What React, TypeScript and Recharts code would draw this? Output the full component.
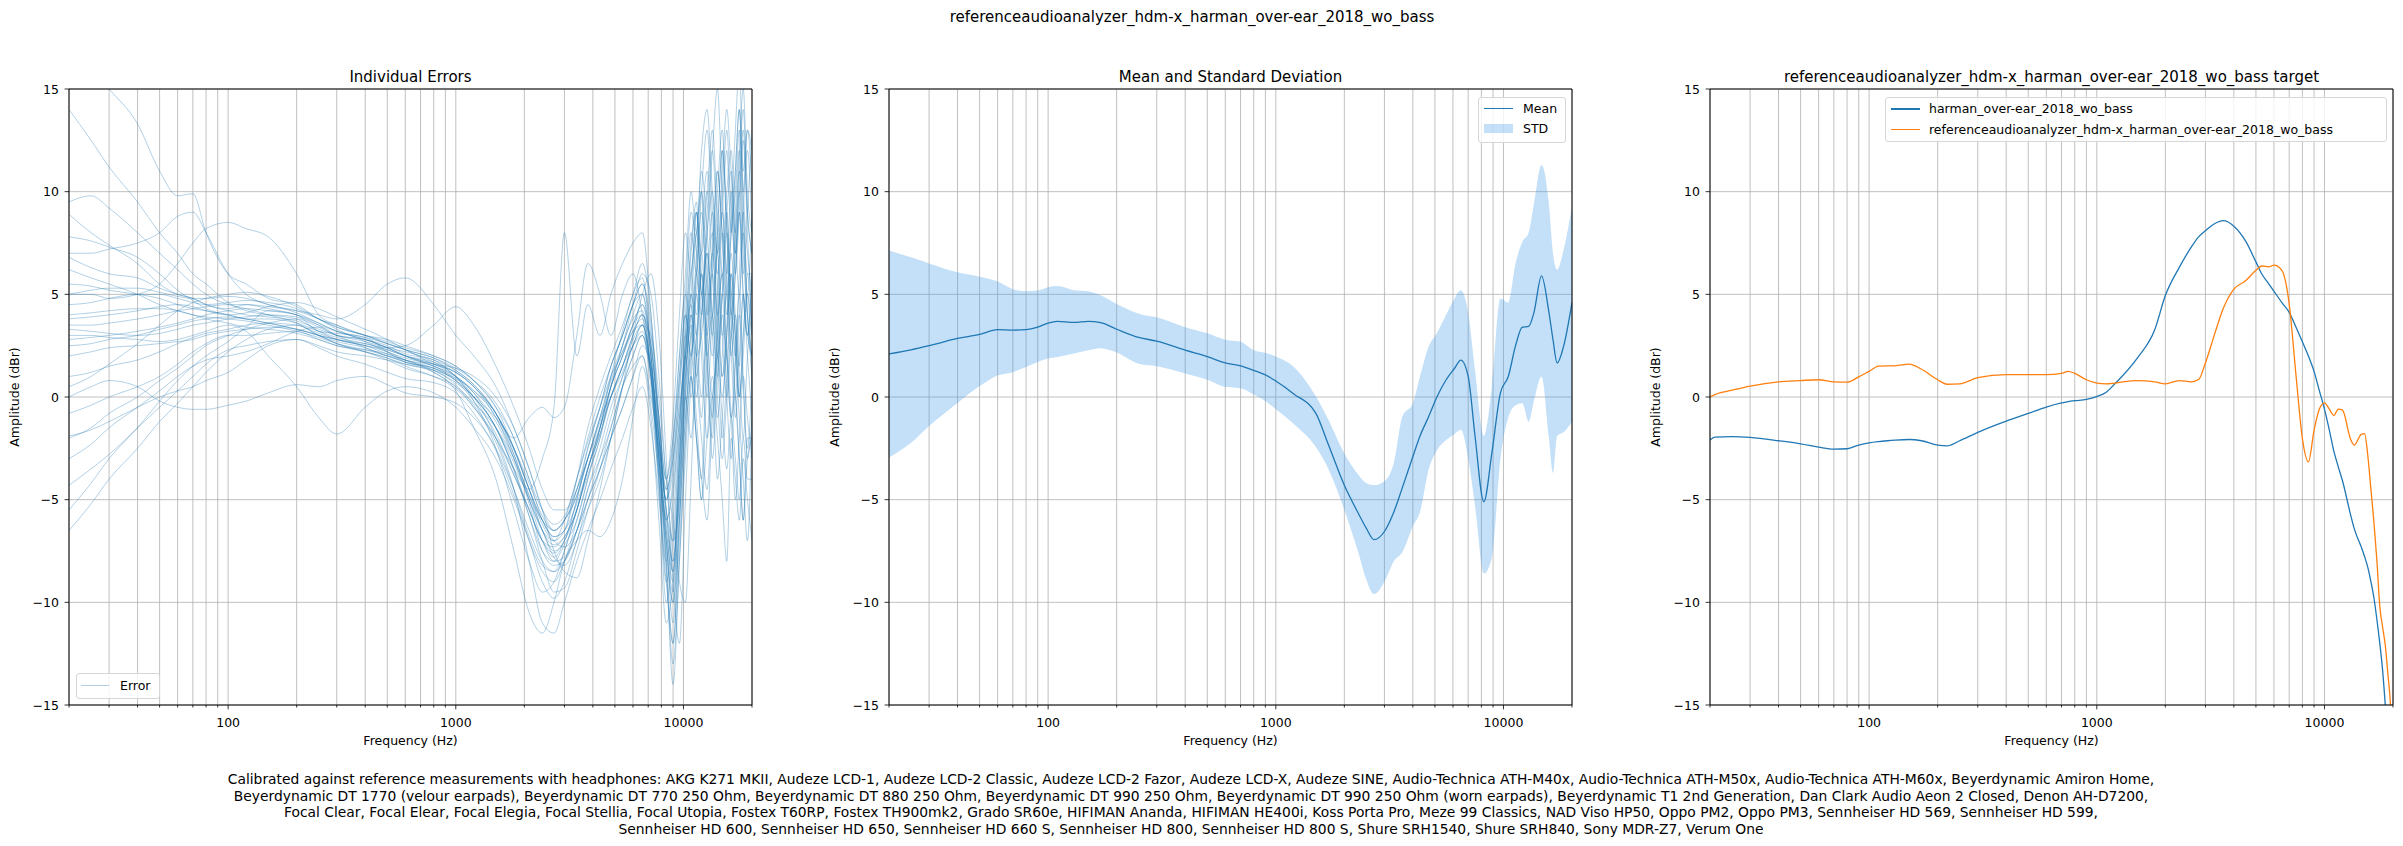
import React from "react";
import {
  LineChart,
  ComposedChart,
  Line,
  Area,
  XAxis,
  YAxis,
  CartesianGrid,
  ReferenceLine,
} from "recharts";

const FONT = "'DejaVu Sans', sans-serif";
const BLUE = "#1f77b4";
const ORANGE = "#ff7f0e";

// ---- axes ----
const X_TICKS = [
  20, 30, 40, 50, 60, 70, 80, 90, 100, 200, 300, 400, 500, 600, 700, 800, 900,
  1000, 2000, 3000, 4000, 5000, 6000, 7000, 8000, 9000, 10000, 20000,
];
const X_MAJOR = [100, 1000, 10000];
const Y_TICKS = [-15, -10, -5, 0, 5, 10, 15];

// ---- individual errors ----
const ERR_FREQ = [
  20, 25, 30, 40, 50, 60, 70, 80,
  100, 120, 150, 200, 250, 300, 400, 500, 600, 800,
  1000, 1200, 1500, 1800, 2100, 2400, 2700, 3000, 3400, 3800,
  4300, 4800, 5400, 6000, 6600, 7200, 7800, 8400, 9000, 9600,
  10200, 10800, 11400, 12000, 12700, 13400, 14100, 14800, 15500, 16200,
  16900, 17600, 18300, 19100, 20000,
];

const ERR_01 = [
  -6.5, -5.2, -4.0, -2.5, -1.2, -0.3, 0.5, 1.2,
  2.2, 2.8, 3.3, 3.5, 3.0, 2.6, 2.2, 1.9, 1.5, 1.0,
  0.4, -0.5, -2.2, -4.5, -6.8, -8.2, -8.5, -7.5, -5.5, -3.8,
  -2.0, 0.5, 2.5, 3.8, 4.2, 1.0, -4.5, -8.0, -5.0, -1.0,
  2.5, 4.5, 2.0, 3.0, 6.0, 9.0, 5.5, 1.0, 3.5, 7.0, 4.0, 1.5, 5.0, 3.0, 2.0,
];
const ERR_02 = [
  -5.5, -4.2, -3.0, -1.5, -0.2, 0.8, 1.5, 2.0,
  2.7, 3.4, 4.2, 4.0, 3.2, 3.1, 2.9, 2.2, 1.7, 1.4,
  0.8, 0.0, -1.5, -3.6, -5.8, -7.5, -8.0, -7.2, -6.0, -4.0,
  -1.5, 1.0, 3.2, 5.0, 5.8, 2.0, -4.0, -10.0, -7.0, -2.0,
  3.0, 7.0, 9.5, 5.0, 9.0, 12.0, 7.5, 3.0, 6.0, 10.0, 6.0, 9.0, 12.5, 8.0, 3.5,
];
const ERR_03 = [
  -4.3, -3.5, -2.8, -1.5, -0.5, 0.3, 1.0, 1.6,
  2.3, 2.5, 2.7, 2.8, 2.4, 2.0, 1.6, 1.2, 0.9, 0.7,
  0.2, -0.8, -2.6, -4.8, -7.0, -9.0, -9.8, -9.0, -7.0, -5.5,
  -4.0, -2.0, 0.5, 2.0, 3.0, 0.5, -3.5, -7.0, -9.5, -4.0,
  1.0, 3.5, 1.0, -2.0, -4.5, 0.0, 2.0, 5.0, 0.0, -3.0, 1.5, 4.0, 0.5, -2.5, 1.0,
];
const ERR_04 = [
  -2.0, -1.5, -0.8, 0.0, 0.8, 1.4, 2.0, 2.5,
  3.0, 3.3, 3.6, 3.8, 3.4, 3.0, 2.8, 2.5, 2.1, 1.8,
  1.0, 0.2, -1.2, -3.0, -5.0, -6.5, -7.5, -7.0, -5.0, -2.5,
  -0.5, 1.5, 3.0, 4.5, 5.5, 3.0, -2.0, -6.5, -8.5, -3.0,
  2.0, 6.0, 8.0, 10.0, 4.0, 7.0, 11.0, 8.0, 4.0, 8.0, 10.0, 13.0, 9.0, 6.0, 6.0,
];
const ERR_05 = [
  -1.9, -1.6, -1.2, -0.5, 0.0, 0.3, 0.5, 0.8,
  1.2, 1.8, 2.5, 2.8, 2.5, 2.2, 2.0, 1.8, 1.6, 1.3,
  0.9, 0.3, -0.8, -2.5, -4.5, -6.0, -6.8, -6.5, -4.5, -3.0,
  -1.0, 0.0, 1.5, 3.0, 4.0, 2.5, -1.0, -4.0, -2.0, 1.0,
  4.0, 2.0, 5.0, 7.0, 2.0, -1.0, 3.0, 6.0, 2.0, -1.0, 0.0, -3.0, -6.0, -2.0, -2.0,
];
const ERR_06 = [
  -0.8, -0.4, 0.0, 0.5, 1.0, 1.6, 2.2, 2.6,
  3.0, 3.0, 3.1, 3.2, 2.8, 2.5, 2.3, 2.1, 1.8, 1.5,
  0.8, -0.2, -1.8, -3.8, -5.5, -7.0, -7.3, -6.8, -5.5, -3.5,
  -1.8, 0.0, 1.2, 2.5, 3.2, 1.2, -3.0, -7.0, -11.0, -6.0,
  -1.0, 2.0, -1.0, -4.0, 3.0, 6.0, 2.0, -2.0, 1.0, 4.0, 2.0, -1.0, -4.0, -7.0, -1.0,
];
const ERR_07 = [
  0.0, 0.5, 0.8, 0.5, -0.2, -0.5, -0.6, -0.6,
  -0.4, -0.2, 0.2, 0.6, 0.5, 0.8, 1.0, 0.6, 0.2, 0.0,
  -0.3, -1.0, -2.5, -4.5, -6.5, -8.0, -8.5, -8.0, -6.5, -4.5,
  -3.0, -1.5, 0.5, 1.5, 2.0, 0.0, -2.5, -5.0, -3.0, 0.5,
  3.0, 1.0, -2.0, -4.0, -6.0, -1.0, 2.0, -1.0, -3.5, -1.0, -3.0, -5.0, -2.0, -4.0, -4.0,
];
const ERR_08 = [
  14.0, 12.5, 11.2, 9.5, 8.0, 7.0, 6.0, 5.5,
  4.6, 4.2, 4.0, 3.8, 3.2, 2.8, 2.5, 2.2, 1.8, 1.3,
  0.6, -0.4, -2.0, -3.8, -5.5, -7.0, -7.8, -7.0, -5.0, -3.0,
  -1.0, 1.0, 2.5, 4.0, 5.0, 2.0, -2.0, -5.5, -7.0, -2.0,
  4.0, 8.0, 6.0, 10.0, 13.0, 9.0, 6.0, 9.0, 12.0, 8.0, 11.0, 14.0, 10.0, 7.0, 5.0,
];
const ERR_09 = [
  17.0, 16.0, 15.0, 13.3, 11.0, 9.8, 9.9, 8.0,
  6.0, 5.5, 4.8, 4.5, 3.8, 3.5, 3.0, 2.6, 2.3, 1.6,
  1.2, 0.5, -0.8, -2.5, -4.5, -6.2, -7.0, -6.5, -4.0, -1.5,
  0.5, 2.0, 3.5, 5.0, 6.5, 4.0, -1.0, -6.0, -8.0, -3.0,
  3.0, 7.5, 9.0, 5.0, 8.0, 12.0, 15.0, 10.0, 6.0, 9.0, 13.0, 16.0, 11.0, 13.0, 10.0,
];
const ERR_10 = [
  9.5, 9.8, 9.2, 8.0, 7.0, 6.2, 5.5, 5.0,
  4.5, 4.3, 4.0, 3.6, 3.0, 2.7, 2.4, 2.0, 1.7, 1.4,
  0.9, 0.0, -1.5, -3.5, -5.5, -7.0, -7.6, -7.0, -5.5, -3.5,
  -1.5, 0.5, 2.0, 3.5, 4.0, 1.5, -3.0, -8.0, -12.0, -6.0,
  0.0, 5.0, 3.0, 7.0, 10.0, 6.0, 2.0, 5.0, 8.0, 5.0, 2.0, 6.0, 9.0, 4.0, 2.0,
];
const ERR_11 = [
  8.9, 8.0, 7.4, 6.5, 5.5, 5.0, 4.8, 4.5,
  4.3, 4.5, 4.3, 4.0, 3.5, 3.0, 2.8, 2.4, 2.0, 1.5,
  1.0, 0.2, -1.5, -3.2, -5.0, -6.5, -7.0, -6.0, -4.0, -2.0,
  0.0, 1.5, 3.0, 4.5, 5.5, 3.5, -1.5, -5.0, -3.5, 1.0,
  5.0, 9.0, 7.0, 4.0, 8.0, 10.0, 7.0, 10.0, 13.0, 9.0, 7.0, 11.0, 14.0, 9.0, 7.0,
];
const ERR_12 = [
  7.8, 7.6, 7.3, 6.8, 6.0, 5.2, 4.7, 4.3,
  4.0, 3.8, 3.8, 3.6, 3.2, 2.9, 2.6, 2.3, 2.0, 1.6,
  1.2, 0.5, -1.0, -2.8, -4.8, -6.0, -6.5, -6.0, -4.8, -3.0,
  -1.2, 0.5, 2.0, 3.2, 3.8, 1.0, -4.0, -9.0, -6.0, -1.5,
  2.0, 0.0, 3.0, 6.0, 3.0, 0.0, 4.0, 8.0, 5.0, 2.0, 4.0, 1.0, -2.0, 2.0, 4.0,
];
const ERR_13 = [
  7.0, 7.0, 7.2, 7.5, 8.0, 8.8, 9.0, 8.0,
  6.0, 5.0, 4.5, 4.2, 3.8, 3.4, 3.0, 2.7, 2.4, 2.0,
  1.5, 0.8, -0.5, -2.0, -4.0, -5.5, -6.2, -5.8, -4.0, -2.2,
  -0.5, 1.0, 2.2, 3.5, 4.5, 2.5, -1.0, -4.5, -2.5, 2.0,
  6.0, 10.0, 8.0, 12.0, 14.0, 10.0, 7.0, 11.0, 14.0, 11.0, 8.0, 12.0, 15.0, 10.0, 8.0,
];
const ERR_14 = [
  6.8, 6.3, 6.0, 5.8, 5.3, 5.0, 4.8, 4.5,
  4.2, 4.0, 3.9, 3.7, 3.3, 3.0, 2.7, 2.4, 2.2, 1.8,
  1.3, 0.6, -0.8, -2.6, -4.5, -6.0, -6.8, -6.5, -5.2, -3.5,
  -1.8, 0.0, 1.5, 2.8, 3.5, 1.0, -3.5, -7.5, -10.0, -5.0,
  0.5, 4.0, 2.0, -1.0, 5.0, 8.0, 4.0, 1.0, 3.0, 6.0, 3.0, 0.0, 3.0, 5.0, 0.5,
];
const ERR_15 = [
  5.0, 5.0, 4.8, 5.0, 5.5, 6.5, 7.5, 8.2,
  8.5, 8.2, 7.8, 6.0, 4.0, 3.5, 3.0, 2.8, 2.5, 2.0,
  1.5, 0.8, -0.5, -2.5, -4.5, -6.5, -7.2, -6.8, -5.5, -3.5,
  -1.5, 0.5, 2.0, 3.5, 4.5, 2.0, -2.5, -6.0, -4.0, 0.0,
  4.0, 2.0, 6.0, 9.0, 5.0, 2.0, 5.0, 9.0, 6.0, 3.0, 6.0, 9.0, 5.0, 3.0, 6.0,
];
const ERR_16 = [
  3.5, 3.5, 3.6, 3.8, 4.0, 4.2, 4.3, 4.4,
  4.5, 4.5, 4.4, 4.2, 4.0, 3.8, 4.5, 5.5, 5.8, 4.5,
  3.0, 2.0, 0.5, -1.5, -3.5, -5.5, -6.5, -6.0, -4.5, -2.5,
  -0.5, 1.5, 3.0, 4.5, 5.0, 2.5, -1.5, -5.5, -8.0, -3.0,
  2.0, 5.0, 3.0, 0.0, 4.0, 7.0, 3.0, 0.0, 3.0, 6.0, 3.0, 0.0, 3.0, 6.0, 3.0,
];
const ERR_17 = [
  3.0, 3.0, 2.9, 2.8, 2.7, 2.8, 3.0, 3.2,
  3.5, 3.2, 2.0, 0.5, -1.0, -1.8, -0.5, 0.3, 0.5, 0.2,
  -0.5, -1.5, -3.0, -5.0, -7.0, -8.5, -9.0, -8.0, -6.5, -5.0,
  -3.5, -2.0, -0.5, 1.0, 2.0, -0.5, -4.0, -8.5, -13.0, -8.0,
  -3.0, 1.0, -2.0, -5.0, -2.0, 1.0, -2.0, -5.0, -8.0, -2.0, -4.0, -6.0, -3.0, -5.0, -7.0,
];
const ERR_18 = [
  3.3, 3.2, 3.1, 3.0, 3.1, 3.3, 3.5, 3.6,
  3.8, 3.9, 4.0, 3.9, 3.5, 3.2, 2.9, 2.6, 2.3, 1.9,
  1.4, 0.8, -0.3, -2.0, -4.0, -6.0, -7.0, -7.3, -6.5, -5.0,
  -3.5, -2.0, -0.5, 1.0, 2.5, 1.5, -2.0, -5.0, -2.0, 2.0,
  5.0, 3.0, 7.0, 11.0, 8.0, 4.0, 8.0, 12.0, 9.0, 5.0, 9.0, 12.0, 8.0, 5.0, 9.0,
];
const ERR_19 = [
  2.0, 2.2, 2.4, 2.5, 2.6, 2.7, 2.8, 3.0,
  3.2, 3.3, 3.4, 3.3, 3.0, 2.8, 2.5, 2.3, 2.0, 1.7,
  1.2, 0.5, -0.8, -2.5, -4.2, -5.8, -6.5, -6.0, -4.8, -3.0,
  -1.0, 0.8, 2.2, 3.2, 3.5, 1.5, -2.0, -4.5, -3.0, -0.5,
  2.0, 4.0, 1.0, 4.0, 7.0, 4.0, 1.0, 4.0, 2.0, 5.0, 3.0, 0.0, 2.0, 5.0, 3.0,
];
const ERR_20 = [
  4.5, 4.6, 4.8, 5.0, 5.0, 4.8, 4.6, 4.5,
  4.6, 4.7, 4.6, 4.3, 3.8, 3.4, 3.0, 2.6, 2.3, 1.9,
  1.3, 0.6, -0.8, -2.8, -5.0, -7.0, -8.0, -7.8, -6.0, -4.0,
  -2.0, 0.0, 1.5, 3.0, 4.0, 2.0, -3.0, -8.0, -14.0, -8.0,
  -2.0, 3.0, 0.0, 4.0, 7.0, 3.0, -1.0, 2.0, 5.0, 2.0, -1.0, 2.0, 5.0, 2.0, -1.0,
];
const ERR_21 = [
  1.0, 1.2, 1.5, 1.8, 2.2, 2.6, 2.9, 3.1,
  3.3, 3.5, 3.6, 3.5, 3.1, 2.8, 2.5, 2.1, 1.8, 1.4,
  0.8, 0.0, -1.5, -3.5, -5.8, -8.0, -9.5, -9.3, -7.5, -5.5,
  -3.5, -1.5, 0.5, 2.0, 3.0, 1.0, -3.0, -6.5, -9.0, -4.5,
  0.0, 3.0, 6.0, 3.0, 0.0, 4.0, 7.0, 3.0, 0.0, 3.0, 6.0, 9.0, 5.0, 3.0, 6.0,
];
const ERR_22 = [
  5.5, 5.4, 5.2, 5.0, 4.8, 4.5, 4.3, 4.2,
  4.0, 3.8, 3.6, 3.3, 3.0, 2.8, 2.6, 2.4, 2.5, 3.5,
  4.4, 3.5, 1.5, -0.5, -2.5, -4.5, -5.5, -5.5, -4.5, -3.0,
  -1.5, 0.0, 1.5, 2.5, 3.0, 1.0, -2.5, -6.0, -4.5, -1.0,
  2.0, 6.0, 4.0, 8.0, 11.0, 8.0, 4.0, 7.0, 10.0, 12.0, 8.0, 5.0, 9.0, 12.0, 8.0,
];
const ERR_23 = [
  2.5, 2.6, 2.8, 3.0, 3.3, 3.5, 3.7, 3.8,
  3.9, 3.8, 3.6, 3.3, 3.0, 2.6, 2.2, 1.8, 1.4, 1.0,
  0.5, -0.5, -2.0, -3.5, -4.5, -3.0, -0.5, 8.0, 2.0, 4.5,
  3.0, 5.0, 6.5, 7.5, 8.0, 4.0, -1.0, -4.0, -1.0, 4.0,
  8.0, 6.0, 9.0, 7.0, 10.0, 13.0, 9.0, 6.0, 9.0, 11.0, 7.0, 10.0, 13.0, 9.0, 7.0,
];
const ERR_24 = [
  4.0, 4.1, 4.2, 4.3, 4.3, 4.2, 4.0, 3.9,
  3.8, 3.7, 3.5, 3.2, 2.9, 2.6, 2.3, 2.0, 1.7, 1.3,
  0.7, 0.0, -1.0, -2.0, -1.0, -0.5, -1.0, -0.5, 3.0, 6.5,
  5.0, 3.0, 5.0, 6.0, 4.0, 1.0, -3.0, -7.0, -10.0, -6.0,
  -1.0, 2.0, 5.0, 2.0, -2.0, 0.0, -4.0, -1.0, 2.0, -1.0, -5.0, -2.0, 1.0, -1.0, -3.0,
];
const ERR_25 = [
  2.8, 2.9, 3.0, 3.2, 3.4, 3.6, 3.8, 4.0,
  4.2, 4.3, 4.2, 4.0, 3.6, 3.2, 2.8, 2.4, 2.0, 1.6,
  1.0, 0.0, -2.0, -4.5, -8.0, -11.0, -11.5, -10.0, -8.0, -6.5,
  -5.0, -3.5, -2.0, -0.5, 0.5, -1.5, -5.0, -9.0, -12.0, -7.0,
  -2.0, 1.0, -2.0, -5.0, 1.0, 4.0, 0.0, -3.0, 0.0, 3.0, 0.0, -3.0, -6.0, -3.0, -2.0,
];
const ERR_26 = [
  5.0, 5.2, 5.3, 5.3, 5.1, 4.9, 4.8, 4.8,
  4.9, 4.8, 4.5, 4.1, 3.6, 3.2, 2.8, 2.4, 2.0, 1.5,
  1.0, 0.3, -1.0, -3.0, -5.2, -7.5, -8.2, -8.0, -6.5, -4.5,
  -2.5, -0.5, 1.0, 2.5, 3.5, 1.5, -2.0, -5.5, -8.5, -3.5,
  1.5, 5.0, 9.0, 6.0, 3.0, 7.0, 11.0, 8.0, 5.0, 8.0, 11.0, 14.0, 10.0, 13.0, 12.0,
];
const ERR_27 = [
  6.2, 5.8, 5.5, 5.0, 4.5, 4.2, 4.0, 3.8,
  3.6, 3.4, 3.3, 3.1, 2.8, 2.5, 2.2, 1.9, 1.6, 1.2,
  0.3, -1.5, -4.0, -7.5, -10.5, -11.5, -10.0, -8.0, -7.0, -6.5,
  -6.8, -6.0, -4.0, -1.0, 1.5, -1.0, -6.0, -11.0, -9.0, -4.0,
  0.0, -2.0, 2.0, 5.0, 1.0, -2.0, 3.0, 6.0, 2.0, -1.0, 2.0, 5.0, 1.0, -3.0, -1.0,
];
const ERR_28 = [
  0.5, 1.0, 1.6, 2.6, 3.5, 4.2, 4.6, 4.8,
  5.0, 5.1, 4.9, 4.4, 3.8, 3.3, 2.7, 2.2, 1.9, 1.6,
  1.4, 1.0, 0.0, -1.5, -3.5, -5.5, -7.5, -8.5, -8.8, -7.0,
  -4.5, -2.0, 0.5, 3.0, 5.0, 6.0, 3.0, -3.0, -9.0, -12.0,
  -5.0, 1.0, 6.0, 10.0, 6.0, 3.0, 8.0, 12.0, 8.0, 4.0, 7.0, 10.0, 6.0, 9.0, 13.0,
];
const ERR_29 = [
  -3.0, -2.3, -1.5, -0.5, 0.3, 1.0, 1.5, 1.8,
  2.0, 2.2, 2.6, 3.2, 3.4, 3.0, 2.4, 2.0, 1.8, 1.2,
  0.5, -0.3, -1.5, -3.0, -4.8, -6.5, -7.8, -8.2, -7.0, -5.0,
  -3.0, -1.0, 1.0, 2.5, 3.5, 3.0, 0.0, -4.0, -6.0, -9.0,
  -10.0, -4.0, 2.0, 6.0, 2.0, -3.0, 1.0, 5.0, 9.0, 4.0, 0.0, 4.0, 8.0, 4.0, 1.0,
];
const ERR_30 = [
  3.8, 3.9, 4.0, 4.2, 4.4, 4.5, 4.4, 4.2,
  4.0, 4.1, 4.4, 4.6, 4.3, 3.9, 3.3, 2.8, 2.3, 1.7,
  1.0, -0.2, -2.5, -5.5, -8.0, -9.5, -9.0, -7.5, -5.5, -3.5,
  -1.5, 0.5, 2.5, 4.5, 6.0, 5.0, 1.0, -4.0, -7.0, -5.0,
  1.0, 4.0, 8.0, 5.0, 2.0, 6.0, 10.0, 13.0, 8.0, 4.0, 8.0, 11.0, 7.0, 4.0, 2.0,
];

const ERRORS = [
  ERR_01, ERR_02, ERR_03, ERR_04, ERR_05, ERR_06, ERR_07, ERR_08, ERR_09, ERR_10,
  ERR_11, ERR_12, ERR_13, ERR_14, ERR_15, ERR_16, ERR_17, ERR_18, ERR_19, ERR_20,
  ERR_21, ERR_22, ERR_23, ERR_24, ERR_25, ERR_26, ERR_27, ERR_28, ERR_29, ERR_30,
];

// ---- mean and std ----
const STAT_FREQ = [
  20, 25, 30, 40, 50, 60, 70, 80, 90, 100, 110, 130, 150, 170, 200, 250, 300,
  400, 500, 600, 700, 800, 900, 1000, 1200, 1500, 1700, 2000, 2300, 2500, 2700,
  3000, 3300, 3600, 4000, 4300, 4700, 5100, 5600, 6100, 6500, 7000, 7500, 8200,
  8900, 9700, 10500, 11300, 12100, 12900, 13600, 14700, 15800, 16500, 17200,
  18400, 20000,
];
const MEAN = [
  2.1, 2.3, 2.5, 2.85, 3.05, 3.28, 3.26, 3.28, 3.4, 3.6, 3.68, 3.63, 3.68, 3.62,
  3.3, 2.9, 2.72, 2.28, 1.97, 1.66, 1.52, 1.3, 1.08, 0.78, 0.15, -0.8, -2.3,
  -4.3, -5.65, -6.4, -6.95, -6.55, -5.6, -4.4, -2.9, -1.9, -0.94, 0.0, 0.84,
  1.4, 1.8, 1.0, -1.9, -5.1, -2.7, 0.2, 1.0, 2.5, 3.4, 3.44, 4.1, 5.9, 4.2,
  2.8, 1.66, 2.5, 4.6,
];
const STD_HIGH = [
  7.14, 6.8, 6.5, 6.07, 5.86, 5.62, 5.25, 5.15, 5.19, 5.35, 5.4, 5.2, 5.15,
  4.95, 4.53, 4.06, 3.88, 3.4, 3.1, 2.79, 2.69, 2.28, 2.15, 1.97, 1.46, 0.02,
  -1.1, -2.75, -3.77, -4.2, -4.29, -4.1, -3.2, -0.94, -0.3, 1.0, 2.47, 3.1,
  4.0, 4.8, 5.2, 4.1, 1.3, -1.9, 0.52, 4.8, 4.6, 6.5, 7.55, 8.0, 9.4, 11.3,
  9.5, 7.0, 6.2, 7.2, 9.3,
];
const STD_LOW = [
  -2.95, -2.23, -1.41, -0.29, 0.53, 1.05, 1.21, 1.46, 1.7, 1.87, 1.95, 2.12,
  2.28, 2.38, 2.17, 1.62, 1.5, 1.15, 0.84, 0.49, 0.43, 0.12, -0.2, -0.6, -1.31,
  -2.44, -3.5, -5.5, -7.55, -8.9, -9.6, -9.0, -8.0, -7.55, -6.3, -5.6, -3.5,
  -2.6, -2.1, -1.8, -1.6, -3.0, -5.3, -8.6, -7.8, -3.0, -1.0, -0.4, -0.3, -1.2,
  -0.2, 1.0, -1.9, -3.7, -1.9, -1.7, -1.2,
];

// ---- target ----
const TARGET_FREQ = [
  20, 21, 25, 30, 40, 50, 60, 70, 80, 90, 100, 110, 120, 130, 150, 170, 200,
  220, 250, 300, 400, 500, 600, 700, 750, 800, 900, 1000, 1100, 1200, 1500,
  1800, 2000, 2300, 2600, 2800, 3000, 3300, 3600, 4000, 4500, 5000, 5300, 5700,
  6000, 6500, 7000, 7500, 8000, 8500, 9000, 9500, 10000, 10500, 11000, 11500,
  12000, 13000, 13500, 14500, 15000, 15500, 16000, 16500, 17000, 17500, 18000,
  18500, 19000, 19500, 20000,
];
const HARMAN = [
  -2.1, -1.95, -1.93, -1.97, -2.13, -2.28, -2.44, -2.54, -2.52, -2.34, -2.23,
  -2.17, -2.13, -2.1, -2.07, -2.13, -2.34, -2.38, -2.13, -1.72, -1.17, -0.8,
  -0.49, -0.29, -0.22, -0.18, -0.12, 0.02, 0.23, 0.64, 1.87, 3.3, 4.94, 6.3,
  7.3, 7.8, 8.1, 8.45, 8.59, 8.32, 7.6, 6.58, 6.0, 5.5, 5.15, 4.6, 4.12, 3.4,
  2.69, 2.0, 1.25, 0.3, -0.59, -1.6, -2.65, -3.4, -4.08, -5.7, -6.4, -7.3,
  -7.77, -8.3, -9.0, -9.8, -10.85, -12.0, -13.3, -15.0, -16.8, -18.5, -20.0,
];
const CALIBRATED = [
  0.0, 0.12, 0.33, 0.53, 0.74, 0.8, 0.84, 0.74, 0.72, 0.98, 1.25, 1.5, 1.52,
  1.52, 1.6, 1.35, 0.84, 0.62, 0.64, 0.94, 1.09, 1.09, 1.09, 1.15, 1.25, 1.15,
  0.84, 0.68, 0.64, 0.68, 0.8, 0.74, 0.64, 0.8, 0.74, 0.85, 1.66, 3.1, 4.33,
  5.25, 5.66, 6.17, 6.38, 6.34, 6.42, 6.17, 4.53, 1.05, -2.03, -3.16, -1.62,
  -0.59, -0.29, -0.59, -0.9, -0.59, -0.64, -2.03, -2.34, -1.82, -1.78, -2.85,
  -4.5, -6.13, -8.0, -10.2, -11.2, -12.1, -13.5, -15.0, -18.0,
];

const TITLE = "referenceaudioanalyzer_hdm-x_harman_over-ear_2018_wo_bass";
const FOOTER = [
  "Calibrated against reference measurements with headphones: AKG K271 MKII, Audeze LCD-1, Audeze LCD-2 Classic, Audeze LCD-2 Fazor, Audeze LCD-X, Audeze SINE, Audio-Technica ATH-M40x, Audio-Technica ATH-M50x, Audio-Technica ATH-M60x, Beyerdynamic Amiron Home,",
  "Beyerdynamic DT 1770 (velour earpads), Beyerdynamic DT 770 250 Ohm, Beyerdynamic DT 880 250 Ohm, Beyerdynamic DT 990 250 Ohm, Beyerdynamic DT 990 250 Ohm (worn earpads), Beyerdynamic T1 2nd Generation, Dan Clark Audio Aeon 2 Closed, Denon AH-D7200,",
  "Focal Clear, Focal Elear, Focal Elegia, Focal Stellia, Focal Utopia, Fostex T60RP, Fostex TH900mk2, Grado SR60e, HIFIMAN Ananda, HIFIMAN HE400i, Koss Porta Pro, Meze 99 Classics, NAD Viso HP50, Oppo PM2, Oppo PM3, Sennheiser HD 569, Sennheiser HD 599,",
  "Sennheiser HD 600, Sennheiser HD 650, Sennheiser HD 660 S, Sennheiser HD 800, Sennheiser HD 800 S, Shure SRH1540, Shure SRH840, Sony MDR-Z7, Verum One",
];

// table rows for the charts
const errorRows = ERR_FREQ.map((f, i) => {
  const row: any = { f };
  ERRORS.forEach((e, k) => {
    row["e" + k] = e[i];
  });
  return row;
});
const statRows = STAT_FREQ.map((f, i) => ({
  f,
  mean: MEAN[i],
  band: [STD_LOW[i], STD_HIGH[i]],
}));
const targetRows = TARGET_FREQ.map((f, i) => ({
  f,
  harman: HARMAN[i],
  calibrated: CALIBRATED[i],
}));

// layout
const PLOT_LEFT = [69, 889, 1710];
const PLOT_TOP = 89;
const PLOT_W = 683;
const PLOT_H = 616;
const AXIS_W = 60;
const PAD = 10;
const AXIS_H = 30;

const XTick = (props: any) => {
  const { x, y, payload } = props;
  const major = X_MAJOR.includes(payload.value);
  return (
    <g>
      <line x1={x} x2={x} y1={y} y2={y + (major ? 4.4 : 2.5)} stroke="#000" strokeWidth={0.8} />
      {major && (
        <text x={x} y={y + 17} textAnchor="middle" dominantBaseline="central" fontSize={12.5} fontFamily={FONT} fill="#000">
          {payload.value}
        </text>
      )}
    </g>
  );
};

const YTick = (props: any) => {
  const { x, y, payload } = props;
  const v = payload.value;
  return (
    <g>
      <line x1={x - 4.4} x2={x} y1={y} y2={y} stroke="#000" strokeWidth={0.8} />
      <text x={x - 10} y={y} textAnchor="end" dominantBaseline="central" fontSize={12.5} fontFamily={FONT} fill="#000">
        {v < 0 ? "\u2212" + Math.abs(v) : String(v)}
      </text>
    </g>
  );
};

function axisParts() {
  return [
    <XAxis
      key="x"
      dataKey="f"
      type="number"
      scale="log"
      domain={[20, 20000]}
      ticks={X_TICKS}
      interval={0}
      allowDataOverflow
      height={AXIS_H}
      tickSize={0}
      tickMargin={0}
      tickLine={false}
      tick={XTick}
      axisLine={{ stroke: "#000", strokeWidth: 1 }}
    />,
    <YAxis
      key="y"
      type="number"
      domain={[-15, 15]}
      ticks={Y_TICKS}
      interval={0}
      allowDataOverflow
      width={AXIS_W}
      tickSize={0}
      tickMargin={0}
      tickLine={false}
      tick={YTick}
      axisLine={{ stroke: "#000", strokeWidth: 1 }}
    />,
  ];
}

function frameParts() {
  return [
    <ReferenceLine key="top" y={15} stroke="#000" strokeWidth={1} />,
    <ReferenceLine key="right" x={20000} stroke="#000" strokeWidth={1} />,
  ];
}

const grid = (key: string) => (
  <CartesianGrid key={key} stroke="#b0b0b0" strokeWidth={0.8} />
);

const chartBox = (i: number): React.CSSProperties => ({
  position: "absolute",
  left: PLOT_LEFT[i] - AXIS_W,
  top: PLOT_TOP - PAD,
});

const CHART_W = AXIS_W + PLOT_W + PAD;
const CHART_H = PAD + PLOT_H + AXIS_H;
const MARGIN = { top: PAD, right: PAD, bottom: 0, left: 0 };

const text = (
  content: string,
  cx: number,
  cy: number,
  size: number,
  extra: React.CSSProperties = {}
) => (
  <div
    style={{
      position: "absolute",
      left: cx,
      top: cy,
      transform: "translate(-50%, -50%)",
      whiteSpace: "nowrap",
      fontSize: size,
      fontFamily: FONT,
      color: "#000",
      lineHeight: 1,
      ...extra,
    }}
  >
    {content}
  </div>
);

const legendBox = (left: number, top: number, width: number, height: number) => ({
  position: "absolute" as const,
  left,
  top,
  width,
  height,
  border: "1px solid #d6d6d6",
  borderRadius: 3,
  background: "rgba(255,255,255,0.8)",
  boxSizing: "border-box" as const,
});

const legendLine = (x1: number, x2: number, y: number, color: string, opacity = 1) => (
  <div
    style={{
      position: "absolute",
      left: x1,
      top: y - 0.75,
      width: x2 - x1,
      height: 1.5,
      background: color,
      opacity,
    }}
  />
);

const legendText = (content: string, left: number, cy: number) => (
  <div
    style={{
      position: "absolute",
      left,
      top: cy,
      transform: "translateY(-50%)",
      whiteSpace: "nowrap",
      fontSize: 12.5,
      fontFamily: FONT,
      lineHeight: 1,
      color: "#000",
    }}
  >
    {content}
  </div>
);

export default function App() {
  const centers = PLOT_LEFT.map((l) => l + PLOT_W / 2);
  return (
    <div
      style={{
        position: "absolute",
        left: 0,
        top: 0,
        width: 2403,
        height: 846,
        background: "#fff",
        overflow: "hidden",
      }}
    >
      {text(TITLE, 1192, 17, 15)}

      {/* titles */}
      {text("Individual Errors", centers[0], 77, 15)}
      {text("Mean and Standard Deviation", centers[1], 77, 15)}
      {text(TITLE + " target", centers[2], 77, 15)}

      {/* axis labels */}
      {centers.map((c, i) => (
        <React.Fragment key={i}>
          {text("Frequency (Hz)", c, 741, 12.5)}
          {text("Amplitude (dBr)", PLOT_LEFT[i] - 54, PLOT_TOP + PLOT_H / 2, 12.5, {
            transform: "translate(-50%, -50%) rotate(-90deg)",
          })}
        </React.Fragment>
      ))}

      {/* individual errors */}
      <div style={chartBox(0)}>
        <LineChart width={CHART_W} height={CHART_H} data={errorRows} margin={MARGIN}>
          {grid("g")}
          {axisParts()}
          {ERRORS.map((_, k) => (
            <Line
              key={k}
              dataKey={"e" + k}
              type="monotone"
              stroke={BLUE}
              strokeOpacity={0.34}
              strokeWidth={1}
              dot={false}
              activeDot={false}
              isAnimationActive={false}
            />
          ))}
          {frameParts()}
        </LineChart>
      </div>

      {/* mean and std */}
      <div style={chartBox(1)}>
        <ComposedChart width={CHART_W} height={CHART_H} data={statRows} margin={MARGIN}>
          <Area
            dataKey="band"
            type="monotone"
            stroke="none"
            fill="#3d9be9"
            fillOpacity={0.31}
            isAnimationActive={false}
            activeDot={false}
          />
          {grid("g")}
          {axisParts()}
          <Line
            dataKey="mean"
            type="monotone"
            stroke={BLUE}
            strokeWidth={1.3}
            dot={false}
            activeDot={false}
            isAnimationActive={false}
          />
          {frameParts()}
        </ComposedChart>
      </div>

      {/* target */}
      <div style={chartBox(2)}>
        <LineChart width={CHART_W} height={CHART_H} data={targetRows} margin={MARGIN}>
          {grid("g")}
          {axisParts()}
          <Line
            dataKey="harman"
            type="monotone"
            stroke={BLUE}
            strokeWidth={1.3}
            dot={false}
            activeDot={false}
            isAnimationActive={false}
          />
          <Line
            dataKey="calibrated"
            type="monotone"
            stroke={ORANGE}
            strokeWidth={1.3}
            dot={false}
            activeDot={false}
            isAnimationActive={false}
          />
          {frameParts()}
        </LineChart>
      </div>

      {/* legends */}
      <div style={legendBox(76, 673, 84, 26)} />
      {legendLine(81, 109, 685.5, BLUE, 0.34)}
      {legendText("Error", 120, 685.5)}

      <div style={legendBox(1478, 97, 88, 46)} />
      {legendLine(1484, 1513, 108.5, BLUE)}
      {legendText("Mean", 1523, 108.5)}
      <div
        style={{
          position: "absolute",
          left: 1484,
          top: 124,
          width: 29,
          height: 9,
          background: "#3d9be9",
          opacity: 0.31,
        }}
      />
      {legendText("STD", 1523, 129)}

      <div style={legendBox(1885, 97, 502, 45)} />
      {legendLine(1891, 1920, 108.8, BLUE)}
      {legendText("harman_over-ear_2018_wo_bass", 1929, 108.8)}
      {legendLine(1891, 1920, 129.5, ORANGE)}
      {legendText(TITLE, 1929, 129.5)}

      {/* footer */}
      {FOOTER.map((line, i) => (
        <React.Fragment key={i}>
          {text(line, 1191, 780 + i * 16.5, 13.85)}
        </React.Fragment>
      ))}
    </div>
  );
}
